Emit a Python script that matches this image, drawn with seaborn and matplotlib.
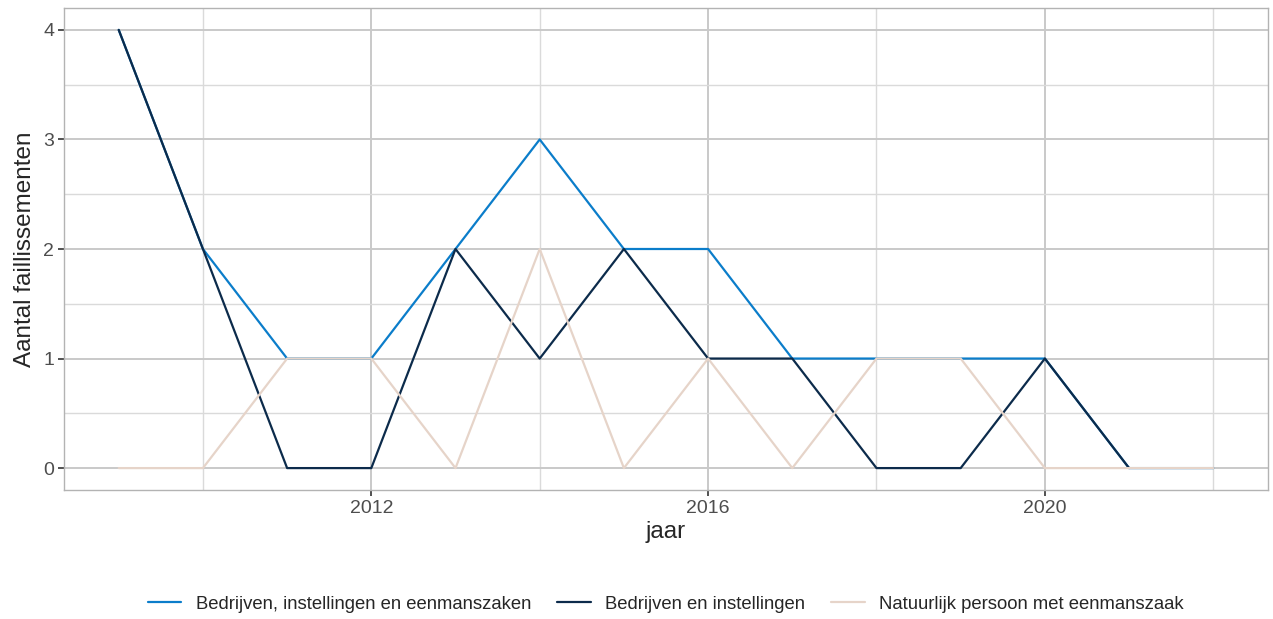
import numpy as np
import pandas as pd
import matplotlib.pyplot as plt
import seaborn as sns
from matplotlib.ticker import MultipleLocator

jaren = list(range(2009, 2023))
totaal = [4, 2, 1, 1, 2, 3, 2, 2, 1, 1, 1, 1, 0, 0]
bedrijven = [4, 2, 0, 0, 2, 1, 2, 1, 1, 0, 0, 1, 0, np.nan]
natuurlijk = [0, 0, 1, 1, 0, 2, 0, 1, 0, 1, 1, 0, 0, 0]
reeksen = ["Bedrijven, instellingen en eenmanszaken",
           "Bedrijven en instellingen",
           "Natuurlijk persoon met eenmanszaak"]
kleuren = ["#0b7dca", "#0c2b4b", "#e6d4c9"]

df = pd.concat([
    pd.DataFrame({"jaar": jaren, "aantal": totaal, "soort": reeksen[0]}),
    pd.DataFrame({"jaar": jaren, "aantal": bedrijven, "soort": reeksen[1]}),
    pd.DataFrame({"jaar": jaren, "aantal": natuurlijk, "soort": reeksen[2]}),
], ignore_index=True).dropna()

sns.set_style("white")
plt.rcParams["font.family"] = ["Liberation Sans", "DejaVu Sans"]

fig = plt.figure(figsize=(12.73, 6.19), dpi=100)
ax = fig.add_axes([64 / 1273, 129 / 619, 1204 / 1273, 482 / 619])

sns.lineplot(data=df, x="jaar", y="aantal", hue="soort", hue_order=reeksen,
             palette=kleuren, linewidth=1.6, ax=ax, legend=True)

ax.set_xlim(2008.35, 2022.65)
ax.set_ylim(-0.2, 4.2)
ax.xaxis.set_major_locator(MultipleLocator(4))
ax.xaxis.set_minor_locator(MultipleLocator(2))
ax.yaxis.set_major_locator(MultipleLocator(1))
ax.yaxis.set_minor_locator(MultipleLocator(0.5))
ax.grid(which="major", color="#c9c9c9", linewidth=1.4)
ax.grid(which="minor", color="#dadada", linewidth=1.0)
ax.set_axisbelow(True)
for s in ax.spines.values():
    s.set_color("#b3b3b3")
    s.set_linewidth(1.0)
ax.tick_params(which="major", bottom=True, left=True, length=4, width=1.2,
               color="#333333", labelsize=14, labelcolor="#4d4d4d", pad=3)
ax.tick_params(which="minor", bottom=False, left=False, length=0)
ax.set_xlabel("jaar", fontsize=17.5, labelpad=3)
ax.set_ylabel("Aantal faillissementen", fontsize=17.5, labelpad=5)

ax.legend(title=None, loc="upper center", bbox_to_anchor=(0.5, -0.185),
          ncol=3, frameon=False, fontsize=13.3, handlelength=1.8,
          columnspacing=1.4)

fig.savefig("out.png", dpi=100)
